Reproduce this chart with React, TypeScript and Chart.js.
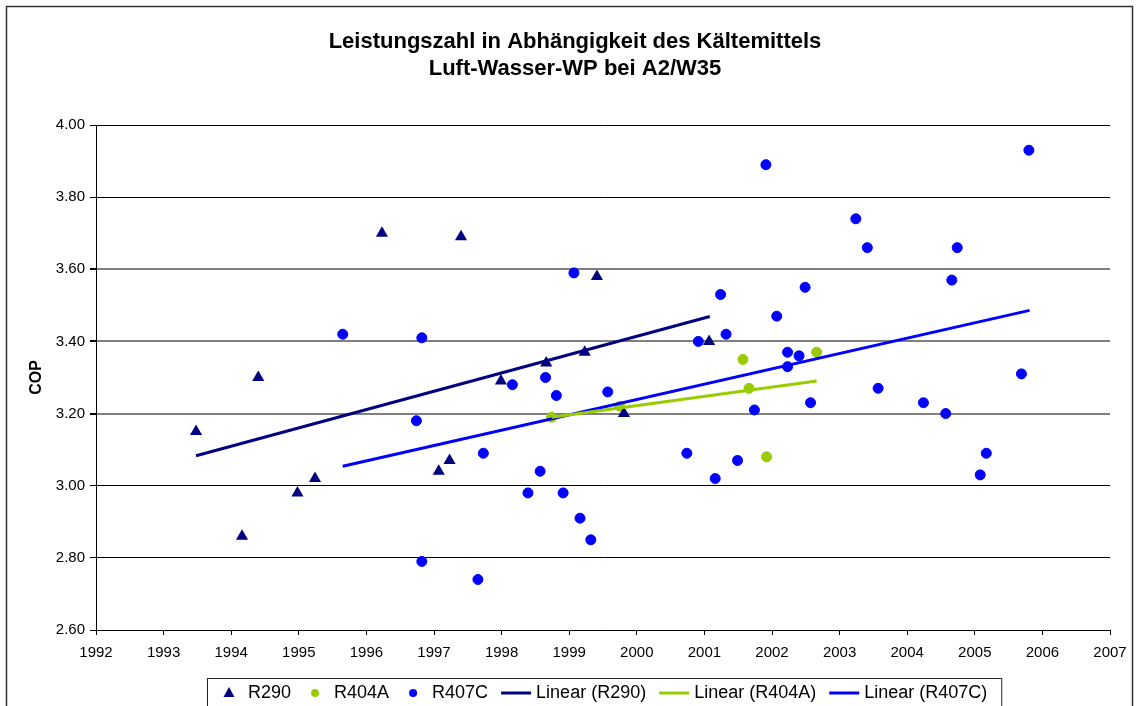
import { useEffect, useRef } from "react";
import { Chart, registerables } from "chart.js";

Chart.register(...registerables);

const FONT = "'Liberation Sans', Arial, Helvetica, sans-serif";

const titleLines = ["Leistungszahl in Abhängigkeit des Kältemittels", "Luft-Wasser-WP bei A2/W35"];
const yAxisTitle = "COP";

const yearTicks = { min: 1992, max: 2007, step: 1 };
const copTicks = { min: 2.6, max: 4.0, step: 0.2 };

// R290 (triangles)
const r290Years = [1993.48, 1994.16, 1994.4, 1994.98, 1995.24, 1996.23, 1997.07, 1997.23, 1997.4, 1997.99, 1998.66, 1999.23, 1999.41, 1999.81, 2001.07];
const r290Cop = [3.15, 2.86, 3.3, 2.98, 3.02, 3.7, 3.04, 3.07, 3.69, 3.29, 3.34, 3.37, 3.58, 3.2, 3.4];

// R404A (green circles)
const r404aYears = [1998.74, 1999.75, 2001.57, 2001.66, 2001.92, 2002.66];
const r404aCop = [3.19, 3.22, 3.35, 3.27, 3.08, 3.37];

// R407C (blue circles)
const r407cYears = [
  1995.65, 1996.74, 1996.82, 1996.82, 1997.65, 1997.73, 1998.16, 1998.39, 1998.57, 1998.65,
  1998.81, 1998.91, 1999.07, 1999.16, 1999.32, 1999.57, 2000.74, 2000.91, 2001.16, 2001.24,
  2001.32, 2001.49, 2001.74, 2001.91, 2002.07, 2002.23, 2002.23, 2002.4, 2002.49, 2002.57,
  2003.24, 2003.41, 2003.57, 2004.24, 2004.57, 2004.66, 2004.74, 2005.08, 2005.17, 2005.69,
  2005.8,
];
const r407cCop = [
  3.42, 3.18, 3.41, 2.79, 2.74, 3.09, 3.28, 2.98, 3.04, 3.3,
  3.25, 2.98, 3.59, 2.91, 2.85, 3.26, 3.09, 3.4, 3.02, 3.53,
  3.42, 3.07, 3.21, 3.89, 3.47, 3.37, 3.33, 3.36, 3.55, 3.23,
  3.74, 3.66, 3.27, 3.23, 3.2, 3.57, 3.66, 3.03, 3.09, 3.31,
  3.93,
];

// Linear trend lines (end points)
const trendR290Years = [1993.48, 2001.08];
const trendR290Cop = [3.083, 3.469];
const trendR404aYears = [1998.74, 2002.66];
const trendR404aCop = [3.19, 3.29];
const trendR407cYears = [1995.65, 2005.81];
const trendR407cCop = [3.054, 3.486];

const NAVY = "#000080";
const GREEN = "#99CC00";
const BLUE = "#0000FF";

const toPoints = (xs: number[], ys: number[]) => xs.map((x, i) => ({ x, y: ys[i] }));

export default function App() {
  const ref = useRef<HTMLCanvasElement>(null);

  useEffect(() => {
    document.body.style.margin = "0";
    const canvas = ref.current;
    if (!canvas) return;

    const framePlugin = {
      id: "framePlugin",
      beforeDraw(chart: any) {
        const ctx = chart.ctx;
        ctx.save();
        ctx.fillStyle = "#ffffff";
        ctx.fillRect(0, 0, chart.width, chart.height);
        ctx.restore();
      },
      afterDraw(chart: any) {
        const ctx = chart.ctx;
        ctx.save();
        // outer frame
        ctx.strokeStyle = "#333333";
        ctx.lineWidth = 1.5;
        ctx.strokeRect(6.5, 6.5, 1126, chart.height + 20);

        // custom legend
        const cy = 693;
        ctx.font = `18px ${FONT}`;
        ctx.textBaseline = "middle";
        ctx.textAlign = "left";
        const dsList = chart.data.datasets;
        let cursor = 222;
        const startX = 207;
        dsList.forEach((ds: any, i: number) => {
          const isLine = !!ds.showLine;
          const color = ds.borderColor;
          if (i > 0) cursor += isLine ? 13 : 17;
          let textX: number;
          if (!isLine) {
            const cx = cursor + 7;
            ctx.fillStyle = color;
            ctx.beginPath();
            if (ds.pointStyle === "triangle") {
              ctx.moveTo(cx, cy - 6);
              ctx.lineTo(cx + 5.5, cy + 4);
              ctx.lineTo(cx - 5.5, cy + 4);
              ctx.closePath();
            } else {
              ctx.arc(cx, cy, 4, 0, Math.PI * 2);
            }
            ctx.fill();
            textX = cx + 19;
          } else {
            ctx.strokeStyle = color;
            ctx.lineWidth = 3;
            ctx.beginPath();
            ctx.moveTo(cursor, cy);
            ctx.lineTo(cursor + 30, cy);
            ctx.stroke();
            textX = cursor + 35;
          }
          ctx.fillStyle = "#000";
          ctx.fillText(ds.label, textX, cy);
          cursor = textX + ctx.measureText(ds.label).width;
        });
        ctx.strokeStyle = "#222";
        ctx.lineWidth = 1;
        ctx.strokeRect(startX + 0.5, 678.5, cursor + 14 - startX, 40);
        ctx.restore();
      },
    };

    const isGray = (v: number) => [3.2, 3.4, 3.6].some((t) => Math.abs(t - v) < 1e-6);

    const chart = new Chart(canvas, {
      type: "scatter",
      data: {
        datasets: [
          {
            label: "R290",
            data: toPoints(r290Years, r290Cop),
            pointStyle: "triangle",
            pointRadius: 7,
            backgroundColor: NAVY,
            borderColor: NAVY,
            borderWidth: 0,
            showLine: false,
            order: 2,
          },
          {
            label: "R404A",
            data: toPoints(r404aYears, r404aCop),
            pointStyle: "circle",
            pointRadius: 5,
            backgroundColor: GREEN,
            borderColor: GREEN,
            borderWidth: 1,
            showLine: false,
            order: 2,
          },
          {
            label: "R407C",
            data: toPoints(r407cYears, r407cCop),
            pointStyle: "circle",
            pointRadius: 5,
            backgroundColor: BLUE,
            borderColor: BLUE,
            borderWidth: 1,
            showLine: false,
            order: 2,
          },
          {
            label: "Linear (R290)",
            data: toPoints(trendR290Years, trendR290Cop),
            showLine: true,
            borderColor: NAVY,
            backgroundColor: NAVY,
            borderWidth: 3,
            pointRadius: 0,
            order: 1,
          },
          {
            label: "Linear (R404A)",
            data: toPoints(trendR404aYears, trendR404aCop),
            showLine: true,
            borderColor: GREEN,
            backgroundColor: GREEN,
            borderWidth: 3,
            pointRadius: 0,
            order: 1,
          },
          {
            label: "Linear (R407C)",
            data: toPoints(trendR407cYears, trendR407cCop),
            showLine: true,
            borderColor: BLUE,
            backgroundColor: BLUE,
            borderWidth: 3,
            pointRadius: 0,
            order: 1,
          },
        ],
      },
      options: {
        responsive: false,
        animation: false,
        events: [],
        layout: { padding: { left: 40, right: 26, top: 0, bottom: 0 } },
        plugins: {
          legend: { display: false },
          tooltip: { enabled: false },
          title: {
            display: true,
            text: titleLines,
            color: "#000",
            font: { family: FONT, size: 22, weight: "bold", lineHeight: 1.2 },
            padding: { top: 29, bottom: 43.2 },
          },
        },
        scales: {
          x: {
            type: "linear",
            position: "bottom",
            min: yearTicks.min,
            max: yearTicks.max,
            afterFit: (scale: any) => {
              scale.height = 76;
            },
            ticks: {
              stepSize: yearTicks.step,
              color: "#000",
              font: { family: FONT, size: 15 },
              padding: 9,
              maxRotation: 0,
              callback: (v: any) => String(v),
            },
            grid: {
              drawOnChartArea: false,
              drawTicks: true,
              tickLength: 5,
              color: "#000",
              tickColor: "#000",
            },
            border: { color: "#000", width: 1 },
          },
          y: {
            type: "linear",
            min: copTicks.min,
            max: copTicks.max,
            afterFit: (scale: any) => {
              scale.width = 56;
            },
            title: {
              display: true,
              text: yAxisTitle,
              color: "#000",
              font: { family: FONT, size: 16, weight: "bold" },
              padding: { top: -12.6, bottom: 0 },
            },
            ticks: {
              stepSize: copTicks.step,
              color: "#000",
              font: { family: FONT, size: 15 },
              padding: 5,
              callback: (v: any) => Number(v).toFixed(2),
            },
            grid: {
              drawTicks: true,
              tickLength: 6,
              tickColor: "#000",
              color: (c: any) => (c.tick && isGray(c.tick.value) ? "#808080" : "#000000"),
              lineWidth: (c: any) => (c.tick && isGray(c.tick.value) ? 2 : 1),
            },
            border: { color: "#000", width: 1 },
          },
        },
      },
      plugins: [framePlugin],
    } as any);

    return () => chart.destroy();
  }, []);

  return (
    <div style={{ width: 1136, height: 706 }}>
      <canvas ref={ref} width={1136} height={706} style={{ display: "block", width: 1136, height: 706 }} />
    </div>
  );
}
